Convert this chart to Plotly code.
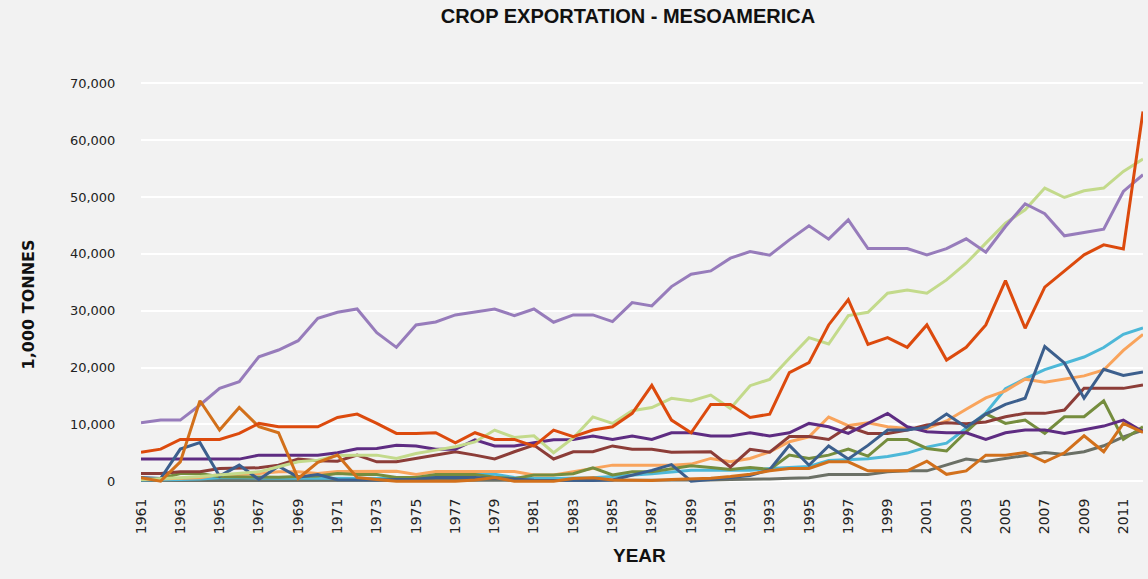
import plotly.graph_objects as go

years = list(range(1961, 2013))

# 1,000 tonnes
crop_a = [10270, 10750, 10750, 13400, 16330, 17500, 21900, 23080, 24720, 28660,
          29720, 30300, 26130, 23550, 27490, 28010, 29250, 29720, 30300, 29130,
          30300, 27960, 29250, 29250, 28070, 31420, 30840, 34240, 36410, 37000,
          39240, 40400, 39770, 42460, 44930, 42580, 45990, 40930, 40930, 40930,
          39820, 40930, 42640, 40290, 44800, 48810, 47050, 43170, 43760, 44350,
          50980, 53920]
crop_b = [300, 400, 600, 800, 1100, 1350, 1640, 2530, 3400, 3700,
          4500, 4580, 4580, 4000, 4870, 5460, 6050, 6900, 8990, 7700,
          7990, 5000, 7600, 11300, 10160, 12400, 12950, 14570, 14100, 15150,
          12800, 16800, 17920, 21620, 25250, 24140, 29130, 29720, 33070, 33650,
          33070, 35420, 38350, 41880, 45400, 47750, 51570, 49920, 51100, 51570,
          54500, 56680]
crop_c = [5100, 5640, 7340, 7340, 7340, 8400, 10160, 9570, 9570, 9570,
          11220, 11800, 10160, 8400, 8400, 8520, 6750, 8520, 7340, 7340,
          6170, 8990, 7810, 8990, 9570, 11930, 16850, 10750, 8520, 13510,
          13510, 11220, 11780, 19090, 20850, 27490, 31950, 24080, 25250, 23550,
          27490, 21320, 23550, 27490, 35300, 26900, 34130, 37000, 39820, 41580,
          40880, 65070]
crop_d = [200, 200, 300, 400, 600, 600, 500, 500, 500, 500,
          600, 600, 500, 470, 470, 880, 880, 1200, 1200, 650,
          470, 470, 470, 600, 800, 1000, 1300, 1600, 1900, 1940,
          1940, 1940, 2230, 2410, 2600, 3640, 3760, 3940, 4350, 4940,
          5990, 6690, 9300, 12000, 16270, 18030, 19620, 20790, 21850, 23520,
          25840, 26950]
crop_e = [290, 400, 400, 600, 1180, 1180, 1350, 1640, 1640, 1350,
          1700, 1760, 1760, 1760, 1180, 1700, 1700, 1760, 1700, 1700,
          1100, 1100, 1700, 2230, 2820, 2820, 2820, 2820, 3000, 4000,
          3400, 4000, 5170, 6930, 7810, 11280, 9780, 10280, 9570, 9280,
          9280, 10600, 12650, 14650, 15900, 17950, 17390, 18000, 18530, 19560,
          23000, 25840]
crop_f = [650, 470, 5640, 6780, 880, 2820, 290, 2640, 700, 1150,
          250, 200, 200, 300, 350, 650, 650, 650, 470, 400,
          180, 150, 150, 100, 200, 1000, 1900, 2900, 0, 300,
          600, 1000, 2000, 6300, 2800, 6200, 3900, 6300, 9000, 9000,
          9500, 11800, 9500, 11800, 13500, 14600, 23700, 20800, 14600, 19700,
          18600, 19200]
crop_g = [1350, 1350, 1640, 1640, 2230, 2230, 2350, 2820, 3880, 3580,
          3500, 4580, 3400, 3400, 4000, 4580, 5170, 4580, 3900, 5170,
          6340, 3900, 5170, 5170, 6200, 5600, 5600, 5100, 5100, 5170,
          2500, 5600, 5100, 7850, 7850, 7340, 9570, 8400, 8400, 8990,
          9870, 10280, 10100, 10400, 11330, 11930, 11930, 12510, 16330, 16330,
          16330, 16920]
crop_h = [470, 470, 1350, 1350, 760, 700, 700, 700, 800, 900,
          1350, 1180, 1180, 650, 650, 1180, 1180, 1180, 700, 450,
          1100, 1100, 1300, 2350, 1100, 1640, 1640, 2230, 2700, 2410,
          2060, 2410, 2060, 4580, 4000, 4580, 5640, 4400, 7340, 7340,
          5760, 5300, 8690, 11850, 10160, 10750, 8400, 11330, 11330, 14150,
          7350, 9570]
crop_i = [3880, 3880, 3880, 3880, 3880, 3880, 4580, 4580, 4580, 4580,
          5000, 5700, 5760, 6300, 6200, 5600, 5600, 7280, 6200, 6200,
          6750, 7280, 7340, 7930, 7340, 7930, 7340, 8520, 8520, 7930,
          7930, 8520, 7930, 8520, 10160, 9570, 8400, 10160, 11920, 9570,
          8690, 8520, 8520, 7350, 8510, 8990, 8990, 8400, 8990, 9690,
          10750, 8690]
crop_j = [620, 0, 3400, 14150, 8990, 12980, 9570, 8520, 470, 3300,
          4580, 650, 290, 0, 0, 0, 0, 200, 650, 0,
          0, 0, 470, 600, 200, 100, 100, 300, 350, 500,
          800, 1230, 1820, 2230, 2230, 3400, 3400, 1820, 1820, 1820,
          3520, 1200, 1800, 4580, 4580, 5050, 3400, 4990, 7980, 5170,
          10160, 8580]
crop_k = [100, 100, 100, 100, 100, 100, 100, 100, 100, 100,
          100, 100, 100, 100, 100, 100, 100, 100, 100, 100,
          100, 100, 100, 100, 100, 100, 150, 150, 100, 200,
          300, 300, 400, 500, 590, 1160, 1160, 1160, 1640, 1820,
          1820, 2900, 3900, 3450, 4000, 4580, 5050, 4700, 5170, 6220,
          7810, 8990]

# drawing order, bottom to top
series = [
    ('Crop K', crop_k, '#6b7066'),
    ('Crop D', crop_d, '#4db8d8'),
    ('Crop E', crop_e, '#f9a45c'),
    ('Crop H', crop_h, '#758d3e'),
    ('Crop G', crop_g, '#8c3d38'),
    ('Crop I', crop_i, '#5e2c82'),
    ('Crop F', crop_f, '#3c5f8d'),
    ('Crop B', crop_b, '#c3da8b'),
    ('Crop A', crop_a, '#977cbb'),
    ('Crop J', crop_j, '#d2701b'),
    ('Crop C', crop_c, '#dc4a0d'),
]

fig = go.Figure()
for name, vals, col in series:
    fig.add_trace(go.Scatter(x=years, y=vals, mode='lines', name=name,
                             line=dict(color=col, width=3)))

fig.update_layout(
    width=1148, height=579,
    paper_bgcolor='#f2f2f2', plot_bgcolor='#f2f2f2',
    showlegend=False,
    margin=dict(l=141, r=5, t=72, b=95),
    font=dict(family='DejaVu Sans', size=13, color='#222222'),
    title=dict(text='<b>CROP EXPORTATION - MESOAMERICA</b>', x=0.547, xanchor='center',
               y=0.972, yanchor='middle',
               font=dict(family='Liberation Sans', size=20, color='#111111')),
)
fig.update_xaxes(range=[1961, 2012], tickvals=list(range(1961, 2012, 2)),
                 tickangle=-90, showgrid=False, zeroline=False, showline=False,
                 ticks='outside', ticklen=8, tickcolor='rgba(0,0,0,0)',
                 tickfont=dict(size=14))
fig.update_yaxes(range=[-500, 72000], tickvals=list(range(0, 70001, 10000)),
                 tickformat=',d', gridcolor='white', gridwidth=2,
                 zeroline=False, showline=False,
                 ticks='outside', ticklen=22, tickcolor='rgba(0,0,0,0)')

fig.add_annotation(text='<b>1,000 TONNES</b>', xref='paper', yref='paper',
                   x=-0.1228, y=0.437, textangle=-90, showarrow=False,
                   font=dict(family='DejaVu Sans', size=16, color='#111111'))
fig.add_annotation(text='<b>YEAR</b>', xref='paper', yref='paper',
                   x=0.498, y=-0.204, showarrow=False,
                   font=dict(family='Liberation Sans', size=19, color='#111111'))

fig.write_html('out.html', config={'displayModeBar': False},
               post_script="document.body.style.margin='0';"
                           "document.body.style.background='#f2f2f2';")
